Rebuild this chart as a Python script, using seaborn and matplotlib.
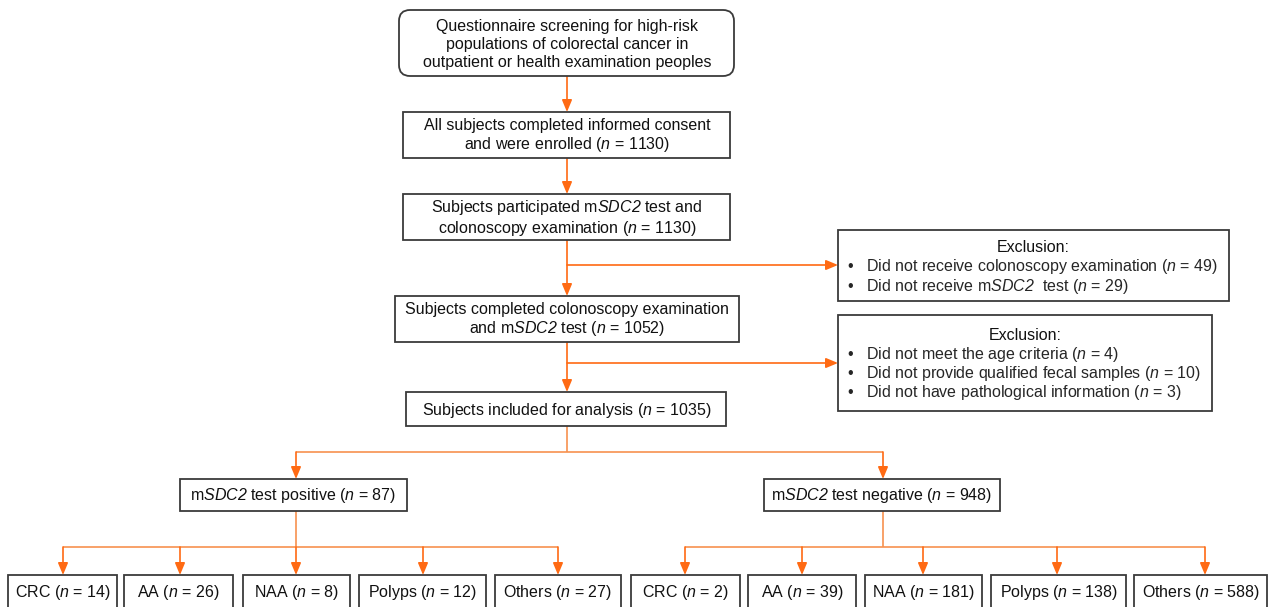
import matplotlib
matplotlib.use("Agg")
import matplotlib.pyplot as plt
from matplotlib.patches import FancyBboxPatch, Rectangle
import seaborn as sns

# ---------------- data ----------------
screen_text = "Questionnaire screening for high-risk\npopulations of colorectal cancer in\noutpatient or health examination peoples"
enrolled_n = 1130
participated_n = 1130
completed_n = 1052
analysis_n = 1035
excl1_items = ["Did not receive colonoscopy examination", "Did not receive m$\\mathsf{SDC2}$  test"]
excl1_n = [49, 29]
excl2_items = ["Did not meet the age criteria", "Did not provide qualified fecal samples",
               "Did not have pathological information"]
excl2_n = [4, 10, 3]
group_labels = ["m$\\mathsf{SDC2}$ test positive", "m$\\mathsf{SDC2}$ test negative"]
group_n = [87, 948]
outcome_labels = ["CRC", "AA", "NAA", "Polyps", "Others"]
positive_n = [14, 26, 8, 12, 27]
negative_n = [2, 39, 181, 138, 588]

# ---------------- style ----------------
sns.set_theme(style="white")
plt.rcParams['font.family'] = ['Liberation Sans', 'DejaVu Sans']
plt.rcParams['mathtext.fontset'] = 'custom'
plt.rcParams['mathtext.rm'] = 'Liberation Sans'
plt.rcParams['mathtext.it'] = 'Liberation Sans:italic'
plt.rcParams['mathtext.sf'] = 'Liberation Sans:italic'
plt.rcParams['mathtext.bf'] = 'Liberation Sans:bold'

ORANGE = "#FF6A13"
LINE = "#F7914F"
EDGE = "#3a3a3a"
FS = 11.5

fig = plt.figure(figsize=(12.78, 6.07), dpi=100)
ax = fig.add_axes([0, 0, 1, 1])
ax.set_xlim(0, 1278)
ax.set_ylim(607, 0)
ax.axis("off")

def nfmt(n):
    return "($\\mathsf{n}$ = %d)" % n

def box(x0, y0, x1, y1, rounded=False):
    if rounded:
        p = FancyBboxPatch((x0, y0), x1 - x0, y1 - y0,
                           boxstyle="round,pad=0,rounding_size=11",
                           fc="white", ec=EDGE, lw=1.3, zorder=3)
    else:
        p = Rectangle((x0, y0), x1 - x0, y1 - y0, fc="white", ec=EDGE, lw=1.3, zorder=3)
    ax.add_patch(p)

def ctext(x, y, s, ls=1.2):
    ax.text(x, y, s, ha="center", va="center", fontsize=FS, color="#111111",
            linespacing=ls, zorder=4)

def line(xs, ys):
    ax.plot(xs, ys, color=LINE, lw=1.2, zorder=1, solid_capstyle="butt")

def arrow(x0, y0, x1, y1):
    ax.annotate("", xy=(x1, y1), xytext=(x0, y0),
                arrowprops=dict(arrowstyle="-|>,head_length=0.6,head_width=0.25",
                                color=ORANGE, lw=1.2, shrinkA=0, shrinkB=0),
                zorder=2)

CX = 567
# main column
box(399, 10, 734, 76, rounded=True)
ctext(CX, 44, screen_text, ls=1.25)
arrow(CX, 76, CX, 112)

box(403, 112, 730, 158)
ctext(CX, 136, "All subjects completed informed consent\nand were enrolled " + nfmt(enrolled_n))
arrow(CX, 158, CX, 194)

box(403, 194, 730, 240)
ctext(CX, 218, "Subjects participated m$\\mathsf{SDC2}$ test and\ncolonoscopy examination " + nfmt(participated_n))
arrow(CX, 240, CX, 296)
arrow(CX, 265, 838, 265)

box(395, 296, 739, 342)
ctext(CX, 320, "Subjects completed colonoscopy examination\nand m$\\mathsf{SDC2}$ test " + nfmt(completed_n))
arrow(CX, 342, CX, 392)
arrow(CX, 363, 838, 363)

box(406, 392, 726, 426)
ctext(CX, 410, "Subjects included for analysis " + nfmt(analysis_n))

# exclusion boxes
box(838, 230, 1229, 301)
ctext(1033, 247, "Exclusion:")
for i, (t, n) in enumerate(zip(excl1_items, excl1_n)):
    y = 267 + i * 19.5
    ax.text(847, y, "\u2022", ha="left", va="center", fontsize=FS, zorder=4)
    ax.text(866, y, t + " " + nfmt(n), ha="left", va="center", fontsize=FS, zorder=4)

box(838, 315, 1212, 411)
ctext(1025, 335, "Exclusion:")
for i, (t, n) in enumerate(zip(excl2_items, excl2_n)):
    y = 354.5 + i * 19
    ax.text(847, y, "\u2022", ha="left", va="center", fontsize=FS, zorder=4)
    ax.text(866, y, t + " " + nfmt(n), ha="left", va="center", fontsize=FS, zorder=4)

# split to groups
group_cx = [296, 883]
group_box = [(180, 407), (764, 1000)]
line([CX, CX], [426, 452])
line([group_cx[0], group_cx[1]], [452, 452])
for gx in group_cx:
    arrow(gx, 452, gx, 479)
for (x0, x1), gx, lab, n in zip(group_box, group_cx, group_labels, group_n):
    box(x0, 479, x1, 511)
    ctext((x0 + x1) / 2, 495.5, lab + " " + nfmt(n))

# outcomes
pos_boxes = [(8, 117), (124, 233), (243, 350), (359, 486), (495, 621)]
neg_boxes = [(631, 740), (748, 856), (865, 982), (991, 1126), (1134, 1267)]
pos_arrows = [63, 180, 296, 423, 558]
neg_arrows = [685, 802, 923, 1057, 1205]
for gx, boxes, arrs, vals in [(group_cx[0], pos_boxes, pos_arrows, positive_n),
                              (group_cx[1], neg_boxes, neg_arrows, negative_n)]:
    line([gx, gx], [511, 547])
    line([arrs[0], arrs[-1]], [547, 547])
    for ax_x in arrs:
        arrow(ax_x, 547, ax_x, 575)
    for (x0, x1), lab, n in zip(boxes, outcome_labels, vals):
        box(x0, 575, x1, 620)
        ctext((x0 + x1) / 2, 593, lab + " " + nfmt(n))

fig.savefig("out.png", dpi=100, facecolor="white")
